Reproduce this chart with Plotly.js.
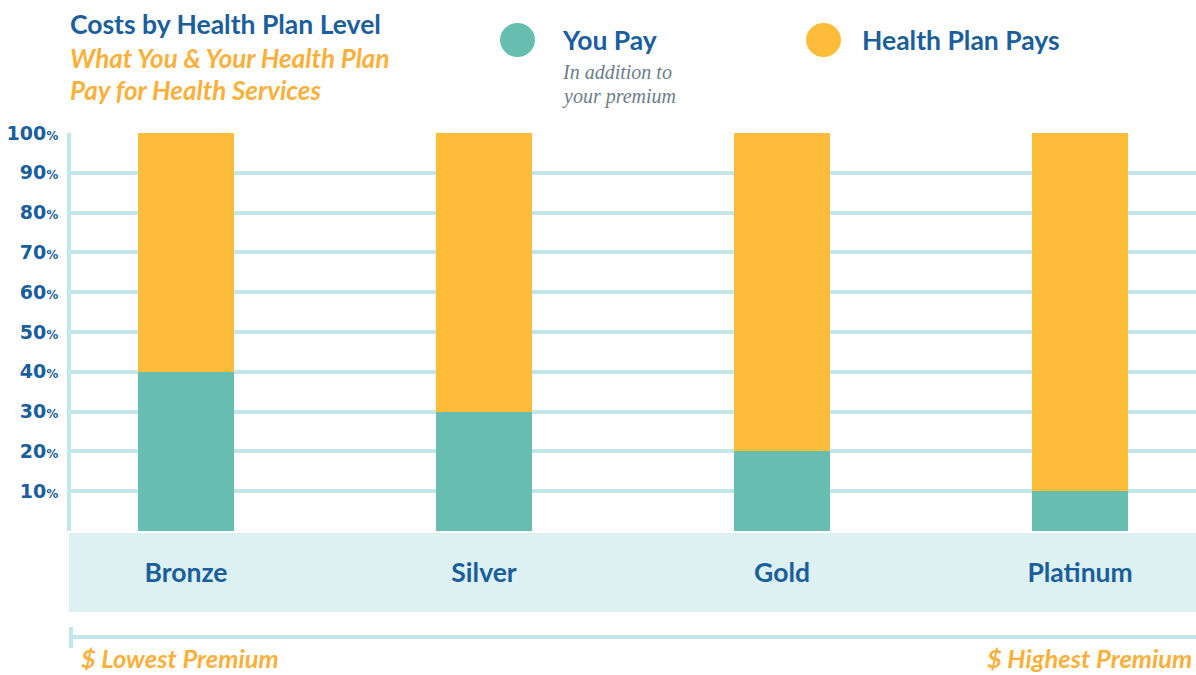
<!DOCTYPE html>
<html>
<head>
<meta charset="utf-8">
<script src="https://cdn.plot.ly/plotly-3.0.1.min.js"></script>
<style>html,body{margin:0;padding:0;background:#fff;}#chart{width:1196px;height:675px;}</style>
</head>
<body>
<div id="chart"></div>
<script>
// ---- data ----
const plans = ["Bronze", "Silver", "Gold", "Platinum"];
const youPay = [40, 30, 20, 10];
const planPays = [60, 70, 80, 90];
const seriesNames = ["You Pay", "Health Plan Pays"];
const yTickVals = [10, 20, 30, 40, 50, 60, 70, 80, 90, 100];
const titleText = "Costs by Health Plan Level";
const subtitleLines = ["What You & Your Health Plan", "Pay for Health Services"];
const youPayNote = ["In addition to", "your premium"];
const premiumLabels = ["$ Lowest Premium", "$ Highest Premium"];

// ---- styles ----
const BLUE = "#1b5e9c";
const ORANGE = "#fbb03b";
const TEAL = "#67bdb0";
const GOLD = "#fdbd3a";
const GRID = "#c3e6e8";
const BAND = "#ddf1f3";
const HEAVY = "Lato";

const xIdx = plans.map((_, i) => i);
const yTickText = yTickVals.map(v => v + "<span style='font-size:12px'>%</span>");

const traces = [
  {type: "bar", name: seriesNames[0], x: xIdx, y: youPay, width: 0.322,
   marker: {color: TEAL, line: {width: 0}}, hoverinfo: "skip"},
  {type: "bar", name: seriesNames[1], x: xIdx, y: planPays, width: 0.322,
   marker: {color: GOLD, line: {width: 0}}, hoverinfo: "skip"}
];

const W = 1125, H = 398; // plot area size in px (for paper conversions)
const py = p => (531 - p) / H;   // pixel y -> paper y
const px = p => (p - 71) / W;    // pixel x -> paper x

function ann(text, x, y, anchor, font, extra) {
  return Object.assign({text: text, x: px(x), y: py(y), xref: "paper", yref: "paper",
          xanchor: anchor, yanchor: "middle", showarrow: false, font: font}, extra || {});
}
const titleFont = {family: HEAVY, size: 26.5, color: BLUE, weight: "bold"};
const subFont = {family: HEAVY, size: 26, color: ORANGE, weight: "bold", style: "italic"};
const legFont = {family: HEAVY, size: 26.5, color: BLUE, weight: "bold"};
const noteFont = {family: "Liberation Serif", size: 20, color: "#6d7d8b", style: "italic"};
const premFont = {family: HEAVY, size: 25.5, color: ORANGE, weight: "bold", style: "italic"};

const annotations = [
  ann(titleText, 68, 24, "left", titleFont),
  ann(subtitleLines[0], 68, 58, "left", subFont),
  ann(subtitleLines[1], 68, 90, "left", subFont),
  ann(seriesNames[0], 560, 40, "left", legFont),
  ann(youPayNote[0], 560, 72, "left", noteFont),
  ann(youPayNote[1], 560, 96, "left", noteFont),
  ann(seriesNames[1], 860, 40, "left", legFont),
  ann(premiumLabels[0], 79, 658, "left", premFont),
  ann(premiumLabels[1], 1194, 658, "right", premFont)
];

const shapes = [
  // category band
  {type: "rect", xref: "paper", yref: "paper", x0: px(69), x1: 1, y0: py(533), y1: py(612),
   fillcolor: BAND, line: {width: 0}, layer: "below"},
  // premium scale line
  {type: "line", xref: "paper", yref: "paper", x0: px(71), x1: 1, y0: py(637), y1: py(637),
   line: {color: GRID, width: 4}},
  {type: "line", xref: "paper", yref: "paper", x0: px(71), x1: px(71), y0: py(627), y1: py(648),
   line: {color: GRID, width: 4}},
  // legend circles
  {type: "circle", xref: "paper", yref: "paper", x0: px(500), x1: px(535), y0: py(23), y1: py(57),
   fillcolor: TEAL, line: {width: 0}},
  {type: "circle", xref: "paper", yref: "paper", x0: px(806), x1: px(841), y0: py(23), y1: py(57),
   fillcolor: GOLD, line: {width: 0}}
];

const layout = {
  width: 1196, height: 675,
  margin: {l: 71, r: 0, t: 133, b: 144, pad: 0},
  paper_bgcolor: "#ffffff", plot_bgcolor: "#ffffff",
  barmode: "stack",
  showlegend: false,
  xaxis: {
    range: [-0.386, 3.389], tickvals: xIdx, ticktext: plans,
    showgrid: false, zeroline: false, showline: false, ticks: "",
    ticklabelstandoff: 23,
    tickfont: {family: HEAVY, size: 26.5, color: BLUE, weight: "bold"},
    fixedrange: true
  },
  yaxis: {
    range: [0, 100], tickvals: yTickVals, ticktext: yTickText,
    showgrid: true, gridcolor: GRID, gridwidth: 4,
    zeroline: false, showline: true, linecolor: GRID, linewidth: 4,
    ticks: "", ticklabelstandoff: 5,
    tickfont: {family: "DejaVu Sans", size: 19, color: BLUE, weight: "bold"},
    fixedrange: true
  },
  annotations: annotations,
  shapes: shapes
};

Plotly.newPlot("chart", traces, layout, {displayModeBar: false, staticPlot: true});
</script>
</body>
</html>
